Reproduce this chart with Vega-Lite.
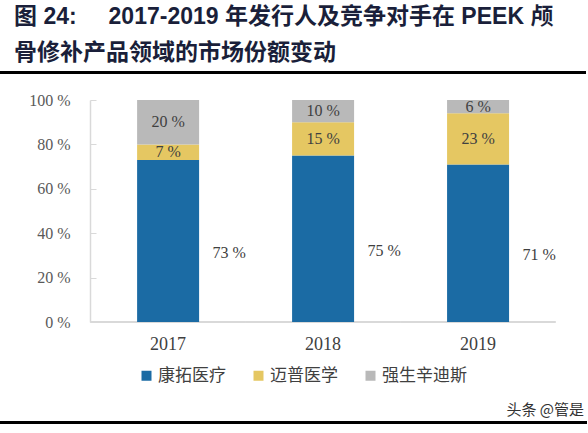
{
  "$schema": "https://vega.github.io/schema/vega-lite/v6.json",
  "background": "white",
  "padding": {"top": 6, "left": 0, "right": 0, "bottom": 0},
  "spacing": 18,
  "title": {
    "text": ["图 24:\u00a0\u00a0\u00a0\u00a0 2017-2019 年发行人及竞争对手在 PEEK 颅", "骨修补产品领域的市场份额变动"],
    "anchor": "start",
    "font": "Liberation Sans, Noto Sans CJK SC",
    "fontSize": 23,
    "fontWeight": "bold",
    "color": "#1a1f3a",
    "lineHeight": 36,
    "offset": 6,
    "dx": 14
  },
  "resolve": {"legend": {"color": "independent"}},
  "config": {
    "view": {"stroke": null},
    "font": "Noto Sans CJK SC"
  },
  "vconcat": [
    {
      "width": 584,
      "height": 1,
      "view": {"stroke": "#000000", "strokeWidth": 2},
      "data": {"values": []},
      "mark": "text",
      "encoding": {}
    },
    {
      "width": 588,
      "height": 222,
      "data": {
        "values": [
          {"year": "2017", "company": "康拓医疗", "share": 73, "order": 1},
          {"year": "2017", "company": "迈普医学", "share": 7, "order": 2},
          {"year": "2017", "company": "强生辛迪斯", "share": 20, "order": 3},
          {"year": "2018", "company": "康拓医疗", "share": 75, "order": 1},
          {"year": "2018", "company": "迈普医学", "share": 15, "order": 2},
          {"year": "2018", "company": "强生辛迪斯", "share": 10, "order": 3},
          {"year": "2019", "company": "康拓医疗", "share": 71, "order": 1},
          {"year": "2019", "company": "迈普医学", "share": 23, "order": 2},
          {"year": "2019", "company": "强生辛迪斯", "share": 6, "order": 3}
        ]
      },
      "transform": [
        {"stack": "share", "groupby": ["year"], "sort": [{"field": "order"}], "as": ["y0", "y1"]},
        {"calculate": "(datum.y0 + datum.y1) / 2", "as": "ymid"},
        {"calculate": "datum.share + ' %'", "as": "label"}
      ],
      "encoding": {
        "x": {
          "field": "year",
          "type": "nominal",
          "title": null,
          "scale": {"paddingInner": 0.6, "paddingOuter": 0.697, "align": 0.63},
          "axis": {
            "labelAngle": 0,
            "labelFont": "Liberation Serif",
            "labelFontSize": 18,
            "labelColor": "#404040",
            "labelPadding": 13,
            "ticks": false,
            "domain": false
          }
        }
      },
      "layer": [
        {
          "mark": {"type": "rect", "width": {"band": 2.5}, "height": 1.5, "color": "#d9d9d9"},
          "encoding": {
            "y": {"datum": 0, "type": "quantitative"}
          }
        },
        {
          "mark": {"type": "bar"},
          "encoding": {
            "y": {
              "field": "y0",
              "type": "quantitative",
              "title": null,
              "scale": {"domain": [0, 100]},
              "axis": {
                "offset": -89,
                "values": [0, 20, 40, 60, 80, 100],
                "labelExpr": "datum.value + ' %'",
                "labelFont": "Liberation Serif",
                "labelFontSize": 16,
                "labelColor": "#595959",
                "labelPadding": 26,
                "grid": false,
                "tickColor": "#d9d9d9",
                "tickSize": -6,
                "domainColor": "#d9d9d9",
                "domainWidth": 1.5
              }
            },
            "y2": {"field": "y1"},
            "color": {
              "field": "company",
              "type": "nominal",
              "sort": ["康拓医疗", "迈普医学", "强生辛迪斯"],
              "scale": {
                "domain": ["康拓医疗", "迈普医学", "强生辛迪斯"],
                "range": ["#1b6ba4", "#e5c762", "#b9b9b9"]
              },
              "legend": {
                "title": null,
                "orient": "none",
                "legendX": 137,
                "legendY": 267,
                "direction": "horizontal",
                "symbolType": "square",
                "symbolSize": 100,
                "symbolStrokeWidth": 0,
                "labelFont": "Noto Sans CJK SC",
                "labelFontSize": 17,
                "labelColor": "#404040",
                "columnPadding": 24,
                "labelOffset": 3
              }
            },
            "order": {"field": "order"}
          }
        },
        {
          "transform": [{"filter": "datum.order > 1"}],
          "mark": {"type": "text", "font": "Liberation Serif", "fontSize": 16, "color": "#404040"},
          "encoding": {
            "y": {"field": "ymid", "type": "quantitative"},
            "text": {"field": "label"}
          }
        },
        {
          "transform": [{"filter": "datum.order == 1"}],
          "mark": {"type": "text", "font": "Liberation Serif", "fontSize": 16, "color": "#404040", "dx": 61, "dy": 12},
          "encoding": {
            "y": {"field": "ymid", "type": "quantitative"},
            "text": {"field": "label"}
          }
        }
      ]
    },
    {
      "width": 585,
      "height": 1,
      "view": {"stroke": "#000000", "strokeWidth": 2},
      "title": {
        "text": "头条 @管是",
        "anchor": "end",
        "font": "Noto Sans CJK SC",
        "fontSize": 15,
        "fontWeight": "normal",
        "color": "#333333",
        "offset": 4,
        "dx": -2
      },
      "data": {"values": []},
      "mark": "text",
      "encoding": {}
    }
  ]
}
